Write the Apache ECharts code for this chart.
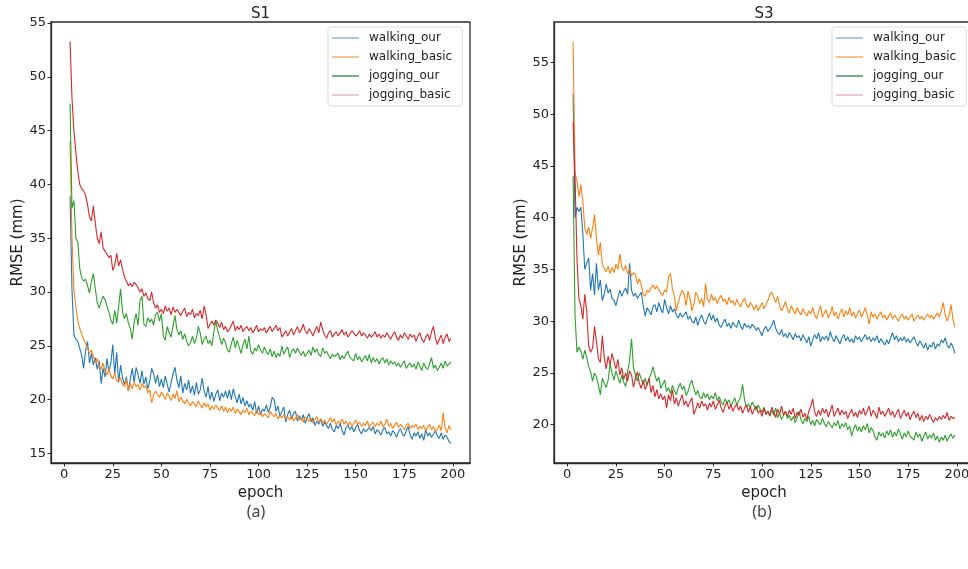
<!DOCTYPE html>
<html>
<head>
<meta charset="utf-8">
<script src="https://cdn.jsdelivr.net/npm/echarts@6/dist/echarts.min.js"></script>
<style>html,body{margin:0;padding:0;background:#fff;}#c{width:968px;height:569px;}</style>
</head>
<body>
<div id="c"></div>
<script>
// ---- data ----
const START_EPOCH = 3;
const seriesNames = ['walking_our', 'walking_basic', 'jogging_our', 'jogging_basic'];
const xTicks = [0, 25, 50, 75, 100, 125, 150, 175, 200];
const yTicksS1 = [15, 20, 25, 30, 35, 40, 45, 50, 55];
const yTicksS3 = [20, 25, 30, 35, 40, 45, 50, 55];

const s1_walking_our = [
38.9,30.2,26.0,25.6,25.4,25.3,24.1,22.9,24.6,25.4,
23.4,24.3,23.2,23.9,22.8,23.6,21.5,22.9,22.1,23.8,
22.6,23.4,25.1,22.3,24.4,21.6,23.2,22.0,21.4,22.1,
20.8,21.9,22.9,21.6,23.0,22.3,21.5,22.7,21.4,22.1,
21.0,21.7,22.9,22.4,21.5,22.3,21.2,21.9,21.1,22.2,
21.4,20.7,21.6,22.4,23.0,21.8,21.1,22.2,20.6,21.5,
20.9,21.8,20.6,21.3,20.4,21.6,20.5,20.9,22.0,20.8,
20.2,21.2,20.0,20.7,19.8,20.5,20.9,19.9,20.6,20.2,
20.8,20.1,20.9,20.0,21.0,20.3,19.7,20.5,19.6,20.2,
19.4,19.9,19.3,19.6,19.0,19.8,18.7,19.4,18.6,19.1,
18.9,19.5,18.8,19.3,20.2,20.0,18.9,19.4,18.4,18.9,
19.3,17.9,18.6,19.0,18.2,18.7,18.9,18.0,18.5,18.1,
18.6,17.8,18.3,18.7,17.9,18.3,17.6,18.0,17.7,18.2,
17.5,17.9,17.6,17.3,17.8,17.2,17.0,17.6,17.3,17.8,
17.1,16.7,17.4,17.6,17.2,17.5,17.0,17.4,17.7,17.1,
16.8,17.3,17.0,16.9,17.4,17.1,17.5,16.8,17.2,17.0,
16.7,17.2,17.4,16.8,17.0,16.6,17.1,16.9,16.5,17.0,
17.3,16.8,16.6,17.1,17.5,16.7,16.3,16.9,16.6,17.0,
16.4,16.8,16.2,17.2,16.6,16.9,16.5,16.8,17.1,16.6,
16.4,16.9,16.3,16.7,16.5,16.1,15.9];

const s1_walking_basic = [
44.0,35.0,30.2,28.6,27.3,26.6,26.1,25.6,25.2,24.7,
24.3,24.6,24.0,23.5,23.8,23.1,22.8,23.4,22.6,22.3,
22.9,22.2,21.9,22.5,21.7,21.8,22.0,21.4,21.2,21.9,
20.8,21.5,21.0,21.6,21.2,21.4,20.9,21.5,21.1,21.3,
20.6,20.9,19.7,20.4,20.8,20.5,20.2,20.7,20.4,20.0,
20.6,20.3,19.9,20.5,20.1,20.8,19.8,20.2,19.9,19.6,
20.0,19.7,19.4,19.8,19.6,19.3,19.9,19.5,19.2,19.7,
19.3,19.6,19.0,19.4,19.1,19.5,19.2,19.0,19.4,18.9,
19.3,18.8,19.2,18.9,19.3,18.7,19.1,18.9,18.6,19.0,
18.8,19.2,18.6,18.9,18.7,18.5,19.0,18.6,18.8,18.4,
18.7,18.5,18.3,18.9,18.6,18.4,18.7,18.2,18.5,18.3,
18.6,18.2,18.4,18.1,18.5,18.0,18.3,18.6,18.1,18.3,
17.9,18.4,18.2,18.0,18.3,17.8,18.1,18.4,17.9,18.2,
17.8,18.1,17.7,18.0,18.3,17.9,18.2,17.6,18.0,17.8,
18.2,17.7,18.0,17.6,17.9,17.5,17.8,18.1,17.7,17.9,
17.5,17.8,17.6,18.0,17.4,17.7,17.9,17.5,17.8,17.6,
18.0,17.4,17.7,18.2,17.5,17.8,17.3,17.6,17.9,17.4,
17.7,17.5,17.2,17.6,17.8,17.3,17.6,17.4,17.7,17.2,
17.5,17.3,17.6,17.1,17.4,17.7,17.2,17.5,17.0,17.3,
17.6,17.1,18.8,17.3,16.9,17.6,17.2];

const s1_jogging_our = [
47.5,37.8,38.5,35.0,34.6,32.2,31.3,31.0,31.2,30.6,
29.9,31.0,31.7,30.3,29.0,28.5,29.1,29.6,29.3,28.7,
28.1,27.4,27.0,28.3,27.1,28.6,30.3,28.2,27.5,28.0,
27.1,26.6,25.6,27.2,28.0,26.9,29.2,29.6,27.0,26.8,
27.6,27.2,27.5,26.9,27.9,28.1,27.3,28.0,25.9,25.5,
26.8,26.2,25.8,26.9,27.8,26.5,26.0,26.4,25.6,26.1,
25.4,25.0,25.3,25.9,25.2,25.7,26.8,26.2,25.1,25.6,
25.9,25.2,25.5,25.0,26.3,27.3,26.4,25.8,25.1,25.7,
25.3,24.6,24.4,25.2,25.8,24.8,25.5,24.9,24.3,25.1,
25.6,24.7,25.9,24.5,24.2,24.8,24.5,25.1,24.6,24.3,
24.9,24.4,24.2,24.7,24.0,24.5,23.9,24.3,24.0,25.0,
24.2,24.6,24.9,23.9,24.5,24.7,24.3,24.8,24.4,24.1,
24.5,24.0,24.3,24.6,24.1,24.9,24.4,24.7,24.2,24.0,
24.8,24.3,24.5,24.1,23.8,24.2,24.0,23.9,24.3,23.7,
24.1,23.8,24.2,24.5,23.9,24.0,23.6,24.3,23.7,24.0,
23.5,23.8,24.1,23.6,24.2,23.4,23.9,23.5,23.8,23.3,
23.7,23.9,23.4,23.8,23.2,23.6,23.3,23.5,23.1,23.4,
23.0,23.3,23.6,22.9,23.2,23.4,23.0,23.3,22.8,23.5,
23.1,22.7,23.4,23.0,22.8,23.3,23.9,22.9,23.2,22.7,
23.0,23.4,22.9,23.6,23.1,23.3,23.5];

const s1_jogging_basic = [
53.3,48.0,45.0,43.0,41.2,40.0,39.6,39.4,39.0,38.1,
37.0,36.6,38.0,36.4,35.0,34.5,35.6,34.1,33.8,33.5,
33.2,33.4,32.0,32.5,33.6,32.4,33.0,32.1,31.4,31.0,
30.6,30.8,30.5,30.9,30.7,30.4,30.0,30.3,29.6,29.9,
29.4,29.2,30.0,29.0,28.5,28.8,28.1,28.4,28.0,28.7,
28.2,28.5,27.9,28.6,28.1,28.4,28.3,27.8,28.2,28.5,
27.7,28.1,27.9,28.4,27.6,28.0,27.8,28.3,27.5,28.7,
27.9,26.6,27.0,27.3,26.9,27.4,27.1,26.7,27.2,26.5,
26.8,26.3,26.5,26.9,27.3,26.4,26.8,26.5,26.9,26.3,
26.6,26.8,26.4,26.7,26.2,26.5,26.9,26.3,26.6,26.4,
26.7,26.2,26.5,26.8,26.3,26.6,26.9,26.4,26.7,25.8,
26.1,26.4,25.9,26.3,26.6,26.0,26.4,26.8,26.2,26.5,
27.0,26.4,26.1,26.6,26.3,25.9,26.4,26.8,26.2,27.2,
26.5,26.0,25.7,26.2,26.4,25.8,26.1,26.3,25.9,26.2,
26.5,26.0,26.3,25.8,26.1,26.4,26.2,25.9,26.1,26.4,
25.9,26.2,26.0,25.7,26.1,25.8,26.0,26.3,25.8,26.1,
25.7,26.0,25.8,26.2,25.9,25.6,26.0,26.3,25.8,25.5,
26.0,25.7,26.2,25.9,25.6,26.1,25.8,26.0,25.4,25.9,
26.2,25.6,25.3,25.8,26.1,25.5,26.3,26.8,25.7,25.1,
25.6,26.0,25.2,25.8,26.1,25.4,25.7];

const s3_walking_our = [
52.0,40.0,41.0,40.6,41.0,38.5,35.0,35.6,36.1,33.0,
34.6,32.5,35.6,33.0,34.0,32.0,32.6,33.6,32.7,33.1,
32.2,32.0,31.5,32.3,33.0,32.4,32.9,33.2,32.6,35.6,
33.0,32.4,32.7,32.2,32.5,32.8,31.5,30.5,31.3,31.0,
30.6,31.4,31.6,30.9,31.8,31.2,30.8,32.1,31.3,30.7,
31.5,30.9,31.2,30.6,30.3,30.8,30.4,30.6,30.9,30.2,
30.5,30.0,29.8,30.4,29.6,30.2,30.6,30.0,29.7,30.3,
30.8,30.1,30.6,29.9,30.3,29.6,29.4,29.9,30.2,29.5,
29.8,29.3,29.9,29.6,29.4,30.1,29.5,29.2,29.8,29.4,
29.6,29.3,29.7,29.5,29.1,29.4,29.0,28.6,29.2,29.5,
29.0,29.3,29.6,30.1,29.3,28.9,28.7,29.2,28.5,28.8,
28.4,28.9,28.6,28.2,28.8,28.4,28.6,28.1,28.7,28.3,
27.9,28.5,27.6,28.2,28.7,28.3,28.9,28.0,28.5,28.2,
28.6,28.1,29.0,28.4,28.0,28.6,28.2,27.8,28.4,28.7,
28.1,28.5,28.0,28.3,27.9,28.6,28.2,28.5,28.0,28.4,
28.7,28.2,28.5,28.0,28.4,28.1,28.6,27.9,28.3,28.0,
27.7,28.2,27.8,28.4,28.9,28.2,28.6,28.0,28.4,28.1,
28.5,28.0,28.3,27.9,28.2,28.5,28.0,27.6,28.1,27.8,
27.4,27.9,27.2,27.7,27.5,28.0,27.3,27.8,27.6,28.2,
27.9,28.4,27.7,27.4,27.9,27.5,26.9];

const s3_walking_basic = [
57.0,44.2,43.6,42.0,43.2,41.6,39.0,38.4,39.1,38.0,
39.0,40.3,38.0,36.4,37.6,35.5,35.1,34.8,35.3,34.6,
35.2,34.7,35.5,35.0,36.5,35.2,34.9,35.4,34.6,35.0,
34.4,34.7,34.5,33.6,34.1,33.5,32.6,32.4,33.0,32.8,
33.2,33.5,33.1,33.4,33.3,32.7,32.5,33.0,32.8,34.3,
34.6,33.1,32.4,31.0,31.8,32.5,33.0,32.6,31.5,32.9,
32.2,31.0,31.6,32.8,32.4,31.7,32.2,31.4,33.6,32.1,
31.8,32.6,32.0,32.3,31.7,32.2,32.5,31.9,32.1,31.6,
32.3,31.8,32.0,31.5,32.1,31.7,31.4,31.9,32.2,31.6,
31.3,31.8,31.5,31.1,31.6,31.0,31.4,31.8,31.2,31.6,
32.0,32.6,32.8,32.3,31.8,32.4,31.5,31.0,31.4,31.9,
31.2,30.8,31.5,31.1,30.7,31.3,30.9,30.6,31.2,30.8,
30.5,31.0,30.7,31.3,30.6,30.2,30.9,31.5,30.4,30.8,
31.1,30.3,30.7,31.4,30.5,30.9,30.2,30.8,31.2,30.4,
31.0,30.6,31.3,30.5,30.9,30.3,30.7,31.1,30.4,30.8,
31.3,30.6,29.7,30.9,30.4,30.7,30.2,30.6,30.9,30.3,
30.6,30.1,30.5,30.8,30.2,30.6,30.3,30.0,30.4,30.7,
30.2,30.5,30.1,30.4,30.7,30.0,30.3,30.6,30.2,30.5,
30.1,30.4,30.7,30.3,30.6,30.2,30.5,30.8,30.4,31.0,
31.8,30.6,30.0,30.5,31.6,30.2,29.4];

const s3_jogging_our = [
44.0,30.5,27.0,27.5,27.1,26.3,27.2,26.5,25.6,25.1,
24.2,25.0,24.6,23.8,22.9,24.5,24.0,23.6,24.3,25.9,
25.0,24.3,25.2,24.6,24.0,24.8,24.1,23.7,25.1,26.2,
28.3,25.5,24.8,24.2,25.0,24.4,23.9,24.5,23.8,24.4,
24.9,25.6,24.8,24.2,24.6,23.5,23.9,24.3,23.2,23.6,
23.0,23.8,23.3,22.9,23.6,24.0,23.4,23.7,22.8,23.2,
23.9,24.3,23.5,22.9,23.3,22.7,22.5,23.1,22.6,23.0,
22.4,22.8,22.5,23.1,22.3,22.7,22.2,21.9,22.5,22.1,
22.4,21.8,22.2,22.6,21.9,22.3,22.7,23.9,22.4,21.7,
22.0,21.6,22.2,21.8,21.4,21.9,21.5,21.2,21.7,21.0,
21.3,20.8,21.4,20.9,21.6,20.7,21.1,20.5,20.9,21.3,
20.6,20.9,20.4,20.8,20.2,20.7,21.3,20.5,20.1,20.6,
20.3,20.8,20.0,20.4,19.9,20.5,20.2,20.0,20.6,20.1,
19.8,20.3,20.0,19.7,20.2,19.9,20.4,19.6,20.1,19.8,
20.2,19.5,19.9,18.9,19.6,20.0,19.4,19.8,19.3,19.9,
19.5,20.1,19.2,19.7,19.4,18.8,18.5,19.3,18.9,19.2,
18.7,19.4,19.0,19.5,18.8,19.3,18.9,19.6,19.1,18.6,
19.2,18.8,19.4,18.9,19.0,18.5,19.3,18.8,19.1,18.4,
18.9,19.3,18.6,19.0,18.7,19.2,18.5,18.9,18.3,18.8,
18.5,19.0,18.4,18.8,19.1,18.7,19.0];

const s3_jogging_basic = [
49.2,44.0,36.0,32.2,31.5,30.2,32.6,31.0,27.6,27.0,
27.4,29.5,28.0,26.4,26.0,28.6,26.5,25.4,26.6,25.8,
26.9,26.1,25.4,26.3,24.8,25.5,24.4,25.0,24.2,25.2,
24.8,23.6,24.5,25.1,24.0,23.5,24.3,23.4,23.9,24.5,
23.1,23.8,22.7,23.4,22.5,23.0,22.4,22.8,21.6,22.9,
22.3,23.4,22.0,22.6,21.8,22.4,22.9,21.9,22.3,21.7,
22.2,22.6,21.0,21.5,22.1,21.6,22.3,21.8,22.0,21.4,
22.1,21.7,22.3,21.5,21.9,22.4,21.6,21.2,21.8,22.2,
21.5,21.9,21.3,21.7,22.0,21.4,21.8,21.1,21.6,21.9,
21.2,21.7,21.0,21.5,21.8,21.1,21.4,20.8,21.6,21.0,
21.3,20.9,21.7,21.2,20.7,21.5,21.0,21.8,20.9,21.3,
20.8,21.4,21.0,21.6,20.6,21.2,20.9,21.5,20.7,21.1,
20.5,21.3,21.8,22.5,21.2,20.8,21.4,20.9,21.6,21.1,
21.5,20.7,21.3,21.9,20.8,21.2,21.6,20.9,21.4,21.0,
21.3,20.6,21.1,21.5,20.8,21.2,20.7,21.4,21.0,21.6,
20.9,21.3,21.8,20.8,21.4,21.1,20.6,21.7,21.0,21.3,
20.8,21.2,21.6,20.9,21.3,20.7,21.1,21.5,20.6,21.0,
21.4,20.8,21.2,20.5,21.0,21.3,20.7,21.1,20.4,20.9,
20.3,20.8,20.5,21.0,20.6,20.2,20.7,20.4,20.8,20.5,
20.9,20.6,21.2,20.4,20.8,20.6,20.7];

// ---- build ----
const colors = ['#1f77b4', '#ff7f0e', '#2ca02c', '#d62728'];
const legendColors = ['#8fb8d8', '#f4ad70', '#3f9a58', '#efb6c0'];
const FONT = 'DejaVu Sans';
const toPairs = arr => arr.map((v, i) => [START_EPOCH + i, v]);

const panels = [
  { data: [s1_walking_our, s1_walking_basic, s1_jogging_our, s1_jogging_basic], yMin: 14.1, yMax: 55.1, yTicks: yTicksS1,
    left: 51, width: 419, title: 'S1', sub: '(a)', subX: 256, legendLeft: 328 },
  { data: [s3_walking_our, s3_walking_basic, s3_jogging_our, s3_jogging_basic], yMin: 16.3, yMax: 58.9, yTicks: yTicksS3,
    left: 554, width: 420, title: 'S3', sub: '(b)', subX: 762, legendLeft: 832 }
];

const grid = [], xAxis = [], yAxis = [], series = [], legend = [], graphic = [];
panels.forEach((p, k) => {
  grid.push({ left: p.left, top: 22, width: p.width, height: 441, show: true, borderColor: '#2b2b2b', borderWidth: 1.3, backgroundColor: '#fff', containLabel: false, outerBoundsMode: 'none' });
  xAxis.push({
    type: 'value', gridIndex: k, min: -6.8, max: 208.8,
    name: 'epoch', nameLocation: 'middle', nameGap: 15,
    nameTextStyle: { fontFamily: FONT, fontSize: 15, color: '#222' },
    axisLine: { show: true, onZero: false, lineStyle: { color: '#2b2b2b', width: 1.3 } },
    axisTick: { show: true, length: 3.5, lineStyle: { color: '#2b2b2b' }, customValues: xTicks },
    axisLabel: { fontFamily: FONT, fontSize: 13, color: '#222', margin: 5, showMinLabel: true, showMaxLabel: true, customValues: xTicks, alignMaxLabel: 'center', alignMinLabel: 'center' },
    splitLine: { show: false }
  });
  yAxis.push({
    type: 'value', gridIndex: k, min: p.yMin, max: p.yMax,
    name: 'RMSE (mm)', nameLocation: 'middle', nameGap: 24,
    nameTextStyle: { fontFamily: FONT, fontSize: 15, color: '#222' },
    axisLine: { show: true, onZero: false, lineStyle: { color: '#2b2b2b', width: 1.3 } },
    axisTick: { show: true, length: 3.5, lineStyle: { color: '#2b2b2b' }, customValues: p.yTicks },
    axisLabel: { fontFamily: FONT, fontSize: 13, color: '#222', margin: 5, showMinLabel: true, showMaxLabel: true, customValues: p.yTicks },
    splitLine: { show: false }
  });
  p.data.forEach((arr, j) => {
    series.push({
      name: seriesNames[j], type: 'line', xAxisIndex: k, yAxisIndex: k,
      data: toPairs(arr), showSymbol: false, symbol: 'none', animation: false,
      lineStyle: { width: 1.1, color: colors[j] }, itemStyle: { color: colors[j] }
    });
  });
  legend.push({
    orient: 'vertical', left: p.legendLeft, top: 27, itemWidth: 27, itemHeight: 1.5, itemGap: 7,
    icon: 'rect',
    padding: [5, 10, 5, 4], backgroundColor: '#fff', borderColor: '#dcdcdc', borderWidth: 1, borderRadius: 3,
    textStyle: { fontFamily: FONT, fontSize: 12, color: '#222', padding: [0, 0, 0, 5] },
    data: seriesNames.map((n, j) => ({ name: n, itemStyle: { color: legendColors[j] } })),
    selectedMode: false
  });
  const cx = p.left + p.width / 2;
  graphic.push({ type: 'text', x: cx, y: 14, style: { text: p.title, font: '15px "DejaVu Sans"', fill: '#222', textAlign: 'center', textVerticalAlign: 'middle' } });
  graphic.push({ type: 'text', x: p.subX, y: 512, style: { text: p.sub, font: '16px "Noto Sans"', fill: '#444', textAlign: 'center', textVerticalAlign: 'middle' } });
});

const chart = echarts.init(document.getElementById('c'), null, { renderer: 'canvas' });
chart.setOption({ animation: false, backgroundColor: '#fff', grid, xAxis, yAxis, series, legend, graphic });
</script>
</body>
</html>
